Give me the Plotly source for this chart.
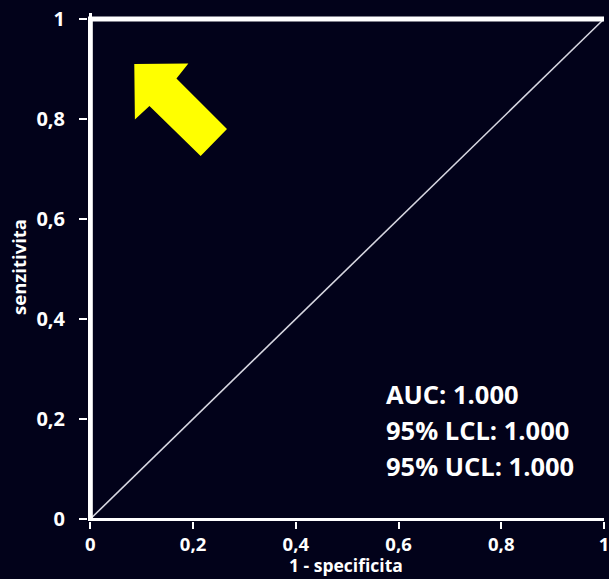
import plotly.graph_objects as go

# ROC curve points (false positive rate vs. true positive rate)
fpr = [0.0, 0.0, 1.0]
tpr = [0.0, 1.0, 1.0]

# Reference line of a random classifier
ref_x = [0.0, 1.0]
ref_y = [0.0, 1.0]

tick_vals = [0, 0.2, 0.4, 0.6, 0.8, 1]
tick_text = ["0", "0,2", "0,4", "0,6", "0,8", "1"]

stats_labels = ["AUC: 1.000", "95% LCL: 1.000", "95% UCL: 1.000"]

BG = "rgb(2,2,26)"
FONT = "Open Sans"

fig = go.Figure()

fig.add_trace(go.Scatter(
    x=ref_x, y=ref_y, mode="lines",
    line=dict(color="rgb(215,215,225)", width=1.6),
    hoverinfo="skip", showlegend=False,
))
fig.add_trace(go.Scatter(
    x=fpr, y=tpr, mode="lines",
    line=dict(color="white", width=5),
    hoverinfo="skip", showlegend=False,
))

# Yellow arrow pointing at the top-left corner
arrow = [(0.0856, 0.910), (0.1909, 0.911), (0.1677, 0.881), (0.2661, 0.780),
         (0.2148, 0.726), (0.1151, 0.826), (0.0868, 0.799)]
path = "M " + " L ".join(f"{x},{y}" for x, y in arrow) + " Z"
fig.add_shape(type="path", path=path, xref="x", yref="y",
              fillcolor="rgb(255,255,0)", line=dict(width=0))

# AUC statistics block
for label, yy in zip(stats_labels, [0.251, 0.179, 0.107]):
    fig.add_annotation(
        x=0.572, y=yy, xref="x", yref="y", text=label, showarrow=False,
        xanchor="left", yanchor="middle",
        font=dict(family=FONT, size=25.5, color="white", weight="bold"),
    )

# x-axis title, sitting at the bottom edge under the tick labels
fig.add_annotation(
    x=0.5, y=-0.1135, xref="paper", yref="paper", text="1 - specificita",
    showarrow=False, xanchor="center", yanchor="bottom",
    font=dict(family=FONT, size=17.5, color="white", weight="bold"),
)

fig.update_layout(
    width=609, height=579,
    margin=dict(l=88, r=0, t=13, b=58),
    paper_bgcolor=BG, plot_bgcolor=BG,
    font=dict(family=FONT, color="white"),
    showlegend=False,
)

fig.update_xaxes(
    range=[-0.0045, 1.0],
    tickvals=tick_vals, ticktext=tick_text,
    ticks="outside", ticklen=7, tickwidth=2, tickcolor="white",
    tickfont=dict(family=FONT, size=18.5, color="white", weight="bold"),
    ticklabeloverflow="allow",
    showgrid=False, showline=False, zeroline=True,
    zerolinecolor="white", zerolinewidth=3,
)
fig.update_yaxes(
    range=[-0.004, 1.012],
    tickvals=tick_vals, ticktext=tick_text,
    ticks="outside", ticklen=8, tickwidth=2, tickcolor="white",
    tickfont=dict(family=FONT, size=20, color="white", weight="bold"),
    ticklabelstandoff=10,
    ticklabeloverflow="allow",
    showgrid=False, showline=False, zeroline=True,
    zerolinecolor="white", zerolinewidth=3,
    title=dict(text="senzitivita", standoff=4,
               font=dict(family=FONT, size=18.5, color="white", weight="bold")),
)

fig.write_html("out.html")
